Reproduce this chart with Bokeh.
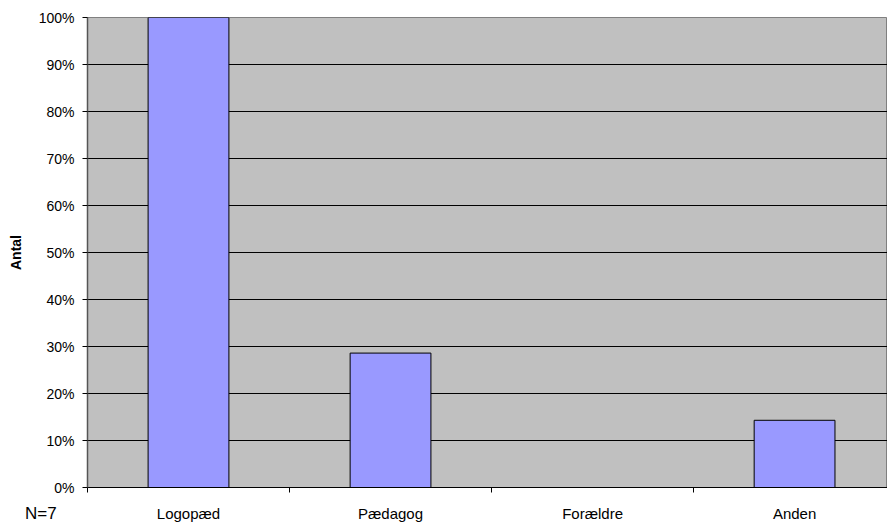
from bokeh.plotting import figure
from bokeh.models import Range1d, FixedTicker, NumeralTickFormatter, Div
from bokeh.layouts import column
from bokeh.embed import file_html
from bokeh.resources import INLINE

categories = ["Logopæd", "Pædagog", "Forældre", "Anden"]
shares = [1.0, 0.286, 0.0, 0.143]
y_ticks = [0.0, 0.1, 0.2, 0.3, 0.4, 0.5, 0.6, 0.7, 0.8, 0.9, 1.0]
sample_note = "N=7"

FONT = "Liberation Sans"

x_centers = [i + 0.5 for i in range(len(categories))]
x_bounds = [float(i) for i in range(len(categories))]

p = figure(width=887, height=524, output_backend="svg", toolbar_location=None,
           x_range=Range1d(0, 3.96), y_range=Range1d(0, 1),
           min_border_left=87, min_border_right=0, min_border_top=17, min_border_bottom=37)

p.border_fill_color = "white"
p.background_fill_color = "#C0C0C0"
p.outline_line_color = "#808080"
p.outline_line_width = 1

p.vbar(x=x_centers, top=shares, width=0.4, bottom=0,
       fill_color="#9999FF", line_color="black", line_width=1)

# y axis
p.yaxis.ticker = FixedTicker(ticks=y_ticks)
p.yaxis.formatter = NumeralTickFormatter(format="0%")
p.yaxis.axis_label = "Antal"
p.yaxis.axis_label_text_font = FONT
p.yaxis.axis_label_text_font_style = "bold"
p.yaxis.axis_label_text_font_size = "14px"
p.yaxis.axis_label_text_color = "black"
p.yaxis.axis_label_standoff = 12
p.yaxis.major_label_text_font = FONT
p.yaxis.major_label_text_font_size = "14px"
p.yaxis.major_label_text_color = "black"
p.yaxis.major_label_standoff = 8
p.yaxis.major_tick_out = 5
p.yaxis.major_tick_in = 0
p.yaxis.major_tick_line_color = "black"
p.yaxis.minor_tick_line_color = None
p.yaxis.axis_line_color = "#555555"
p.yaxis.axis_line_width = 1.5

# x axis
p.xaxis.ticker = FixedTicker(ticks=x_centers, minor_ticks=x_bounds)
p.xaxis.major_label_overrides = {c: n for c, n in zip(x_centers, categories)}
p.xaxis.major_label_text_font = FONT
p.xaxis.major_label_text_font_size = "15px"
p.xaxis.major_label_text_color = "black"
p.xaxis.major_label_standoff = 12
p.xaxis.major_tick_line_color = None
p.xaxis.major_tick_out = 0
p.xaxis.major_tick_in = 0
p.xaxis.minor_tick_out = 5
p.xaxis.minor_tick_in = 0
p.xaxis.minor_tick_line_color = "black"
p.xaxis.axis_line_color = "black"

p.xgrid.grid_line_color = None
p.ygrid.ticker = FixedTicker(ticks=y_ticks)
p.ygrid.grid_line_color = "black"
p.ygrid.grid_line_width = 1

note = Div(text=f'<span style="font-family: \'{FONT}\'; font-size: 17px; color: black; line-height: 20px;">{sample_note}</span>',
           width=60, height=20, margin=(-20, 0, 0, 25))

layout = column(p, note, spacing=0)

open("out.html", "w").write(file_html(layout, INLINE))
